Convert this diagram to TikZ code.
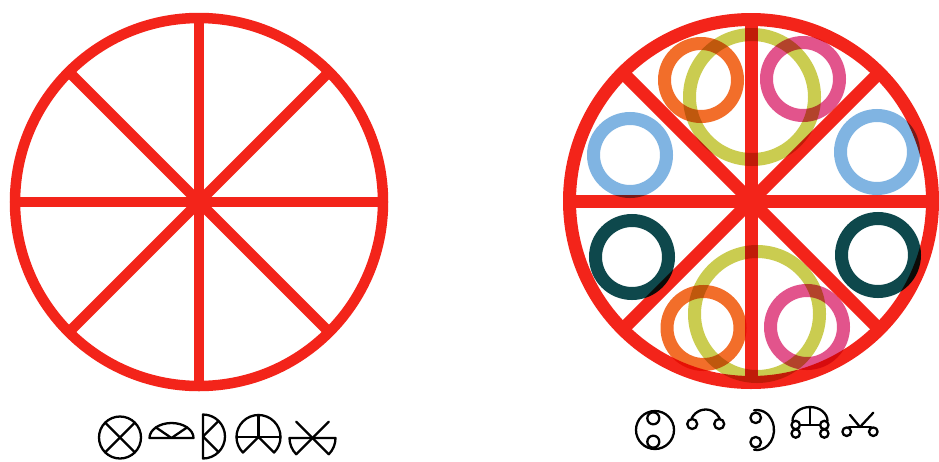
\documentclass[tikz,border=0pt]{standalone}
\usetikzlibrary{calc}
\definecolor{wred}{RGB}{243,36,26}
\definecolor{rorange}{RGB}{242,110,42}
\definecolor{rpink}{RGB}{226,84,140}
\definecolor{ryellow}{RGB}{202,204,80}
\definecolor{rblue}{RGB}{128,180,226}
\definecolor{rteal}{RGB}{14,72,76}
\tikzset{
  wheelL/.style={draw=wred,line width=10.5},
  wheelR/.style={draw=wred,line width=13},
  ring/.style={draw=#1,line width=13,blend mode=multiply},
  glyph/.style={draw=black,line width=2.3,line join=round,line cap=round},
}
\begin{document}
\begin{tikzpicture}[x=1pt,y=-1pt]
\useasboundingbox (0,0) rectangle (939,461);
\fill[white] (0,0) rectangle (939,461);

% ---------- left wheel ----------
\coordinate (L) at (199,202);
\draw[wheelL] (L) circle[radius=184];
\foreach \a in {0,45,90,135}
  \draw[wheelL] ($(L)+(\a:184)$) -- ($(L)+(\a+180:184)$);

% ---------- right wheel ----------
\coordinate (R) at (751,201);
\draw[wheelR] (R) circle[radius=181.5];
\foreach \a in {0,45,90,135}
  \draw[wheelR] ($(R)+(\a:181.5)$) -- ($(R)+(\a+180:181.5)$);

% coloured rings
\coordinate (yU) at (752,97);
\coordinate (yD) at (757,314);
\coordinate (oU) at (701,80);
\coordinate (pU) at (803,79);
\coordinate (bL) at (630,155);
\coordinate (bR) at (877,152);
\coordinate (tL) at (632,257);
\coordinate (tR) at (878,255);
\coordinate (oD) at (703.5,328);
\coordinate (pD) at (807,327);
\draw[ring=ryellow] (yU) circle[radius=62.5];
\draw[ring=ryellow] (yD) circle[radius=62.5];
\draw[ring=rorange] (oU) circle[radius=36.5];
\draw[ring=rpink] (pU) circle[radius=36.5];
\draw[ring=rorange] (oD) circle[radius=36.5];
\draw[ring=rpink] (pD) circle[radius=36.5];
\draw[ring=rblue] (bL) circle[radius=36.5];
\draw[ring=rblue] (bR) circle[radius=36.5];
\draw[ring=rteal] (tL) circle[radius=36.5];
\draw[ring=rteal] (tR) circle[radius=36.5];

% ---------- left glyphs ----------
% 1: circle with X
\coordinate (g1) at (120,437.5);
\draw[glyph] (g1) circle[radius=21];
\draw[glyph] ($(g1)+(45:21)$) -- ($(g1)+(225:21)$);
\draw[glyph] ($(g1)+(135:21)$) -- ($(g1)+(315:21)$);
% 2: flattened half disc
\coordinate (g2) at (171.5,438);
\draw[glyph] ($(g2)+(-22,0)$) arc[start angle=180,end angle=360,x radius=22,y radius=15] -- cycle;
\draw[glyph] ($(g2)+(-45:22 and 15)$) -- (g2) -- ($(g2)+(-135:22 and 15)$);
% 3: right half disc
\coordinate (g3) at (203,436.5);
\draw[glyph] ($(g3)+(0,-22)$) arc[start angle=-90,end angle=90,radius=22] -- cycle;
\draw[glyph] ($(g3)+(-45:22)$) -- (g3) -- ($(g3)+(45:22)$);
% 4: wheel open below
\coordinate (g4) at (258.5,437);
\draw[glyph] ($(g4)+(45:22)$) arc[start angle=45,end angle=-225,radius=22];
\draw[glyph] ($(g4)+(0:22)$) -- ($(g4)+(180:22)$);
\draw[glyph] (g4) -- ($(g4)+(-90:22)$);
\draw[glyph] ($(g4)+(45:22)$) -- (g4) -- ($(g4)+(135:22)$);
% 5: cross with lower wedges
\coordinate (g5) at (312.5,438);
\draw[glyph] ($(g5)+(-135:23)$) -- ($(g5)+(45:23)$);
\draw[glyph] ($(g5)+(-45:23)$) -- ($(g5)+(135:23)$);
\draw[glyph] ($(g5)+(135:23)$) arc[start angle=135,end angle=180,radius=23] -- ($(g5)+(0:23)$) arc[start angle=0,end angle=45,radius=23];

% ---------- right glyphs ----------
% 1: circle with two small circles
\coordinate (h1) at (655,430);
\draw[glyph] (h1) circle[radius=19];
\draw[glyph] (653.3,418.3) circle[radius=6];
\draw[glyph] (653.3,441.7) circle[radius=6];
% 2: arc with two small circles
\coordinate (h2) at (705.7,425);
\draw[glyph] ($(h2)+(-155:15.5)$) arc[start angle=-155,end angle=-25,radius=15.5];
\draw[glyph] (692.2,424) circle[radius=5];
\draw[glyph] (719.2,424) circle[radius=5];
% 3: reversed c with two small circles
\coordinate (h3) at (757,430);
\draw[glyph] ($(h3)+(-100:17 and 20)$) arc[start angle=-100,end angle=100,x radius=17,y radius=20];
\draw[glyph] (755.7,417.8) circle[radius=5.3];
\draw[glyph] (755.7,442.2) circle[radius=5.3];
% 4: dome over four small circles
\coordinate (h4) at (810,421);
\draw[glyph] ($(h4)+(-17.5,0)$) arc[start angle=180,end angle=360,x radius=17.5,y radius=14];
\draw[glyph] (810,407) -- (810,425);
\draw[glyph] (799.9,425) -- (820.1,425);
\draw[glyph] (795.7,425) circle[radius=4.2];
\draw[glyph] (795.7,433.5) circle[radius=4.2];
\draw[glyph] (824.3,425) circle[radius=4.2];
\draw[glyph] (824.3,433.5) circle[radius=4.2];
% 5: V over bar with two small circles
\coordinate (h5) at (860,427);
\draw[glyph] (849,427) -- (871,427);
\draw[glyph] (850,415) -- (h5) -- (873.3,412.7);
\draw[glyph] (846.7,431.7) circle[radius=4.3];
\draw[glyph] (873.3,431.7) circle[radius=4.3];
\end{tikzpicture}
\end{document}
